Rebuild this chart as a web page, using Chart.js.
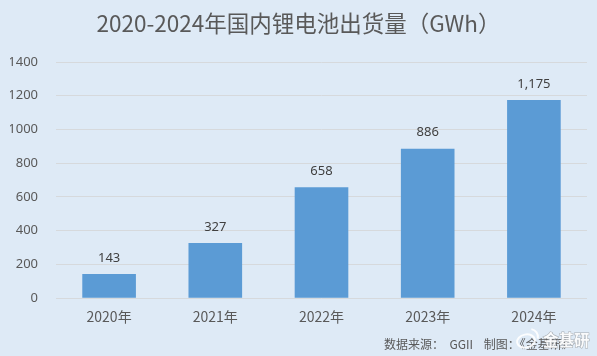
<!DOCTYPE html>
<html>
<head>
<meta charset="utf-8">
<style>
  html, body { margin: 0; padding: 0; background: #deeaf6; }
  canvas { display: block; }
</style>
<script src="https://cdn.jsdelivr.net/npm/chart.js@4/dist/chart.umd.min.js"></script>
</head>
<body>
<canvas id="chart" width="597" height="356"></canvas>
<script>
const categories = ["2020年", "2021年", "2022年", "2023年", "2024年"];
const shipments = [143, 327, 658, 886, 1175];
const yMax = 1400;
const yStep = 200;
const titleText = "2020-2024年国内锂电池出货量（GWh）";
const sourceText = "数据来源：  GGII    制图：《金基研》";
const watermarkText = "金基研";

const cjk = '"Noto Sans CJK SC", "Noto Sans", sans-serif';
const latin = '"Noto Sans", "Noto Sans CJK SC", sans-serif';

const background = {
  id: "background",
  beforeDraw(chart) {
    const { ctx, width, height } = chart;
    ctx.save();
    ctx.fillStyle = "#deeaf6";
    ctx.fillRect(0, 0, width, height);
    ctx.restore();
  },
};

// value labels above the bars
const barLabels = {
  id: "barLabels",
  afterDatasetsDraw(chart) {
    const { ctx } = chart;
    const meta = chart.getDatasetMeta(0);
    ctx.save();
    ctx.font = "13px " + latin;
    ctx.fillStyle = "#404040";
    ctx.textAlign = "center";
    ctx.textBaseline = "middle";
    meta.data.forEach((bar, i) => {
      ctx.fillText(shipments[i].toLocaleString("en-US"), bar.x, bar.y - 16);
    });
    ctx.restore();
  },
};

const footer = {
  id: "footer",
  afterDraw(chart) {
    const { ctx } = chart;
    ctx.save();
    ctx.font = "12px " + cjk;
    ctx.fillStyle = "#595959";
    ctx.textBaseline = "middle";
    ctx.fillText(sourceText, 384, 344);

    // weibo style watermark on top
    ctx.strokeStyle = "rgba(255,255,255,0.9)";
    ctx.lineWidth = 2;
    ctx.beginPath();
    ctx.ellipse(526, 341, 9, 6.5, -0.2, 0, Math.PI * 2);
    ctx.stroke();
    ctx.beginPath();
    ctx.arc(530, 337, 8, -1.4, 0.2);
    ctx.stroke();
    ctx.font = "bold 15.5px " + cjk;
    ctx.lineWidth = 1;
    ctx.strokeStyle = "rgba(110,110,110,0.5)";
    ctx.strokeText(watermarkText, 543, 340);
    ctx.fillStyle = "rgba(255,255,255,0.9)";
    ctx.fillText(watermarkText, 543, 340);
    ctx.restore();
  },
};

new Chart(document.getElementById("chart"), {
  type: "bar",
  data: {
    labels: categories,
    datasets: [
      {
        data: shipments,
        backgroundColor: "#5b9bd5",
        categoryPercentage: 1,
        barPercentage: 0.505,
      },
    ],
  },
  options: {
    responsive: false,
    animation: false,
    layout: { padding: { top: 10, right: 10, bottom: 29, left: 10 } },
    plugins: {
      legend: { display: false },
      tooltip: { enabled: false },
      title: {
        display: true,
        text: titleText,
        color: "#595959",
        font: { family: cjk, size: 22.5, weight: "normal" },
        padding: { top: 0, bottom: 25 },
      },
    },
    scales: {
      x: {
        grid: { display: false },
        border: { display: false },
        ticks: {
          color: "#595959",
          font: { family: cjk, size: 14 },
          padding: 2,
          maxRotation: 0,
        },
      },
      y: {
        min: 0,
        max: yMax,
        afterFit(scale) {
          scale.width = 46;
        },
        grid: { color: "#d6d9dc", drawTicks: false, lineWidth: 1 },
        border: { display: false },
        ticks: {
          stepSize: yStep,
          color: "#595959",
          font: { family: latin, size: 13 },
          padding: 18,
          callback: (value) => String(value),
        },
      },
    },
  },
  plugins: [background, barLabels, footer],
});
</script>
</body>
</html>
